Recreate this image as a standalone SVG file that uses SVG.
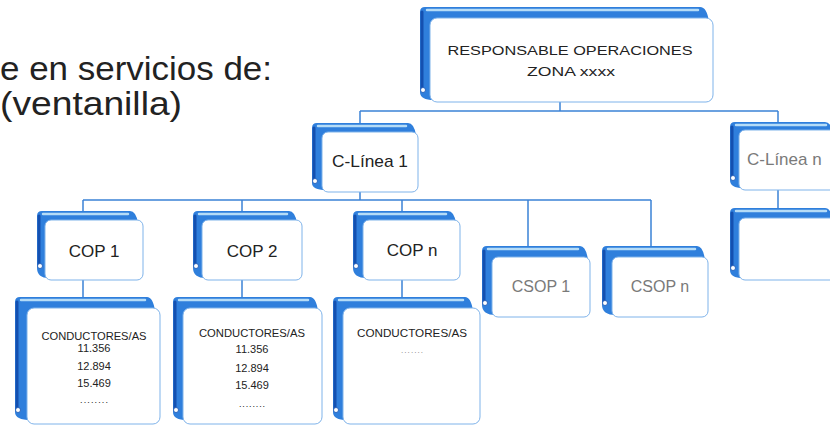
<svg xmlns="http://www.w3.org/2000/svg" width="830" height="426" viewBox="0 0 830 426">
<style>
.back{fill:#2f7fdc}
.edge{stroke:#1450b0;stroke-width:3;fill:none;stroke-linecap:round}
.hl{stroke:#b5dcf7;stroke-width:2.5;stroke-linecap:round}
.ring{fill:#fff;stroke:#1450b0;stroke-width:0.8}
.card{fill:#fff;stroke:#7fb3ea;stroke-width:1}
.conn{stroke:#3b82d6;stroke-width:1.5;fill:none}
.t{font-family:"Liberation Sans",Arial,sans-serif;fill:#222}
.lbl{font-size:17px}
.sm{font-size:11px}
.grey{fill:#7a7a7a}
</style>
<rect width="830" height="426" fill="#fff"/>
<g id="heading">
<text class="t" x="0" y="80" font-size="34" textLength="272" lengthAdjust="spacingAndGlyphs" fill="#111">e en servicios de:</text>
<text class="t" x="0" y="115" font-size="34" textLength="182" lengthAdjust="spacingAndGlyphs" fill="#111">(ventanilla)</text>
</g>
<g id="connectors">
<path class="conn" d="M560,102 V111 M360,111 H778 M360,111 V123 M778,111 V122"/>
<path class="conn" d="M360,192 V200 M83,200 H651 M83,200 V211 M242,200 V211 M402,200 V211 M528,200 V246 M651,200 V246"/>
<path class="conn" d="M83,280 V297 M242,280 V297 M402,280 V297 M778,190 V208"/>
</g>
<g id="responsable">
<path class="back" d="M420,92 V12 Q420,7 425,7 H700 Q707,7 709,22 H434 V100 Q420,100 420,92 Z"/>
<path class="edge" d="M422,12 V88"/><path class="hl" d="M427,10 H698"/><circle class="ring" cx="423" cy="90" r="2.5"/>
<rect class="card" x="430" y="18" width="283" height="84" rx="7"/>
<text class="t" x="570" y="55" font-size="13" text-anchor="middle" textLength="245" lengthAdjust="spacingAndGlyphs" fill="#333">RESPONSABLE OPERACIONES</text>
<text class="t" x="571" y="76" font-size="13" text-anchor="middle" textLength="88" lengthAdjust="spacingAndGlyphs" fill="#333">ZONA xxxx</text>
</g>
<g id="clinea1">
<path class="back" d="M312,183 V128 Q312,123 317,123 H408 Q414,123 416,135 H326 V190 Q312,190 312,183 Z"/>
<path class="edge" d="M314,128 V180"/><path class="hl" d="M318,126 H406"/><circle class="ring" cx="315" cy="181" r="2.5"/>
<rect class="card" x="322" y="132" width="96" height="60" rx="6"/>
<text class="t lbl" x="332" y="167" textLength="76" lengthAdjust="spacingAndGlyphs">C-Línea 1</text>
</g>
<g id="clinean">
<path class="back" d="M730,180 V127 Q730,122 735,122 H825 Q831,122 833,133 H743 V188 Q730,188 730,180 Z"/>
<path class="edge" d="M732,127 V177"/><path class="hl" d="M736,125 H826"/><circle class="ring" cx="733" cy="178" r="2.5"/>
<rect class="card" x="739" y="130" width="100" height="60" rx="6"/>
<text class="t lbl grey" x="747" y="165">C-Línea n</text>
</g>
<g id="blank">
<path class="back" d="M730,270 V213 Q730,208 735,208 H825 Q831,208 833,221 H743 V278 Q730,278 730,270 Z"/>
<path class="edge" d="M732,213 V267"/><path class="hl" d="M736,211 H826"/><circle class="ring" cx="733" cy="268" r="2.5"/>
<rect class="card" x="739" y="218" width="100" height="62" rx="6"/>
</g>
<g id="cop1">
<path class="back" d="M37,268 V216 Q37,211 42,211 H130 Q136,211 138,223 H49 V278 Q37,278 37,268 Z"/>
<path class="edge" d="M39,216 V265"/><path class="hl" d="M43,214 H128"/><circle class="ring" cx="40" cy="266" r="2.5"/>
<rect class="card" x="45" y="220" width="98" height="60" rx="6"/>
<text class="t lbl" x="94" y="257" text-anchor="middle">COP 1</text>
</g>
<g id="cop2">
<path class="back" d="M193,268 V216 Q193,211 198,211 H289 Q295,211 297,223 H206 V278 Q193,278 193,268 Z"/>
<path class="edge" d="M195,216 V265"/><path class="hl" d="M199,214 H287"/><circle class="ring" cx="196" cy="266" r="2.5"/>
<rect class="card" x="202" y="220" width="100" height="60" rx="6"/>
<text class="t lbl" x="252" y="257" text-anchor="middle">COP 2</text>
</g>
<g id="copn">
<path class="back" d="M353,268 V216 Q353,211 358,211 H448 Q454,211 456,223 H367 V278 Q353,278 353,268 Z"/>
<path class="edge" d="M355,216 V265"/><path class="hl" d="M359,214 H446"/><circle class="ring" cx="356" cy="266" r="2.5"/>
<rect class="card" x="363" y="220" width="97" height="60" rx="6"/>
<text class="t lbl" x="412" y="256" text-anchor="middle">COP n</text>
</g>
<g id="csop1">
<path class="back" d="M482,305 V251 Q482,246 487,246 H580 Q586,246 588,260 H496 V315 Q482,315 482,305 Z"/>
<path class="edge" d="M484,251 V302"/><path class="hl" d="M488,249 H578"/><circle class="ring" cx="485" cy="303" r="2.5"/>
<rect class="card" x="492" y="257" width="98" height="60" rx="6"/>
<text class="t grey" x="541" y="292" font-size="16" text-anchor="middle">CSOP 1</text>
</g>
<g id="csopn">
<path class="back" d="M602,305 V251 Q602,246 607,246 H697 Q703,246 705,260 H616 V315 Q602,315 602,305 Z"/>
<path class="edge" d="M604,251 V302"/><path class="hl" d="M608,249 H695"/><circle class="ring" cx="605" cy="303" r="2.5"/>
<rect class="card" x="612" y="257" width="96" height="60" rx="6"/>
<text class="t grey" x="660" y="292" font-size="16" text-anchor="middle">CSOP n</text>
</g>
<g id="conductores1">
<path class="back" d="M15,412 V302 Q15,297 20,297 H147 Q153,297 155,311 H31 V420 Q15,420 15,412 Z"/>
<path class="edge" d="M17,302 V409"/><path class="hl" d="M21,300 H145"/><circle class="ring" cx="18" cy="410" r="2.5"/>
<rect class="card" x="27" y="308" width="133" height="116" rx="7"/>
<text class="t sm" x="94" y="340" text-anchor="middle" textLength="105" lengthAdjust="spacingAndGlyphs">CONDUCTORES/AS</text>
<text class="t sm" x="94" y="352" text-anchor="middle">11.356</text>
<text class="t sm" x="94" y="370" text-anchor="middle">12.894</text>
<text class="t sm" x="94" y="387" text-anchor="middle">15.469</text>
<text class="t" x="94" y="403" font-size="9" text-anchor="middle" textLength="28" lengthAdjust="spacing">........</text>
</g>
<g id="conductores2">
<path class="back" d="M173,412 V302 Q173,297 178,297 H310 Q316,297 318,311 H187 V420 Q173,420 173,412 Z"/>
<path class="edge" d="M175,302 V409"/><path class="hl" d="M179,300 H308"/><circle class="ring" cx="176" cy="410" r="2.5"/>
<rect class="card" x="183" y="308" width="139" height="116" rx="7"/>
<text class="t sm" x="252" y="337" text-anchor="middle" textLength="106" lengthAdjust="spacingAndGlyphs">CONDUCTORES/AS</text>
<text class="t sm" x="252" y="353" text-anchor="middle">11.356</text>
<text class="t sm" x="252" y="372" text-anchor="middle">12.894</text>
<text class="t sm" x="252" y="389" text-anchor="middle">15.469</text>
<text class="t" x="252" y="407" font-size="9" text-anchor="middle" textLength="26" lengthAdjust="spacing">........</text>
</g>
<g id="conductoresn">
<path class="back" d="M333,412 V302 Q333,297 338,297 H465 Q471,297 473,311 H347 V420 Q333,420 333,412 Z"/>
<path class="edge" d="M335,302 V409"/><path class="hl" d="M339,300 H463"/><circle class="ring" cx="336" cy="410" r="2.5"/>
<rect class="card" x="343" y="308" width="137" height="116" rx="7"/>
<text class="t" x="357" y="337" font-size="10.5" textLength="110" lengthAdjust="spacingAndGlyphs">CONDUCTORES/AS</text>
<text class="t grey" x="412" y="353" font-size="8" text-anchor="middle" textLength="22" lengthAdjust="spacing">.......</text>
</g>
</svg>
